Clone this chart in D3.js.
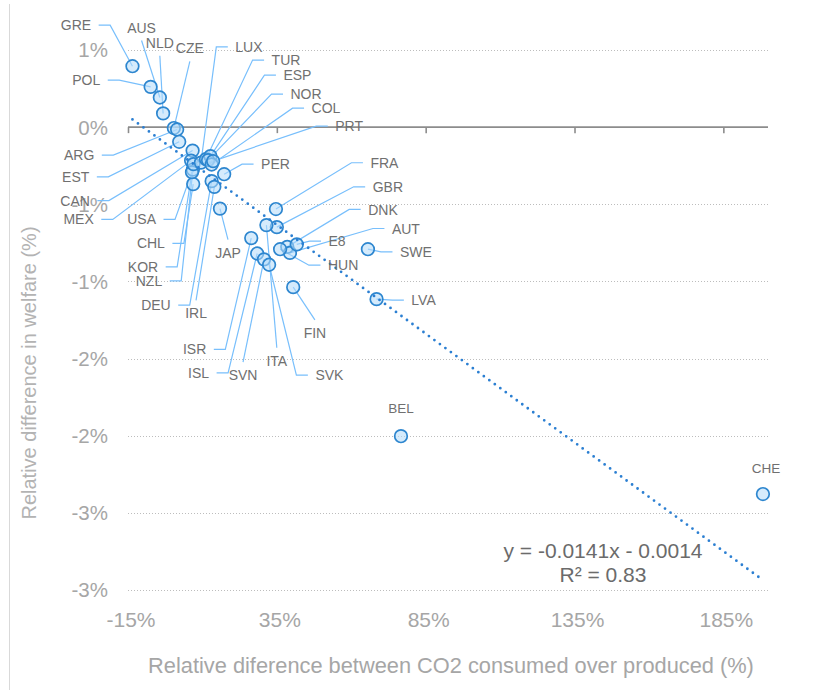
<!DOCTYPE html>
<html><head><meta charset="utf-8">
<script src="https://cdn.jsdelivr.net/npm/d3@7"></script>
<style>
body{margin:0;background:#fff;}
svg{display:block;font-family:"Liberation Sans",Arial,Helvetica,sans-serif;}
</style></head><body>
<svg id="chart" width="814" height="690"></svg>
<script>
// ---- data ----
const countries = ["GRE","POL","AUS","NLD","CZE","ARG","EST","CAN","MEX","USA","CHL","KOR","NZL","DEU","IRL","LUX","TUR","ESP","NOR","COL","PRT","PER","JAP","FRA","GBR","DNK","AUT","E8","SWE","HUN","LVA","FIN","ISR","ITA","ISL","SVN","SVK","BEL","CHE"];
// Relative difference between CO2 consumed over produced (%)
const co2Diff = [-13.5,-7.4,-4.3,-3.2,0.4,1.5,2.2,6.7,6.2,6.8,6.9,6.5,7.0,13.1,14.0,9.5,11.2,12.7,11.9,13.1,13.6,17.3,15.9,34.7,35.0,38.5,39.4,41.7,65.6,36.1,68.5,40.5,26.4,31.5,28.4,30.7,32.4,76.7,198.3];
// Relative difference in welfare (%)
const welfareDiff = [0.395,0.261,0.192,0.089,-0.006,-0.015,-0.095,-0.152,-0.217,-0.275,-0.369,-0.292,-0.240,-0.350,-0.387,-0.230,-0.207,-0.188,-0.214,-0.242,-0.220,-0.305,-0.528,-0.531,-0.648,-0.776,-0.815,-0.760,-0.791,-0.791,-1.115,-1.037,-0.719,-0.635,-0.819,-0.857,-0.892,-2.003,-2.378];
const xTicks = [-15,35,85,135,185];
const xTickLabels = ["-15%","35%","85%","135%","185%"];
const yTicks = [0.5,0,-0.5,-1,-1.5,-2,-2.5,-3];
const yTickLabels = ["1%","0%","-1%","-1%","-2%","-2%","-3%","-3%"];
const trendSlope = -0.0141, trendIntercept = -0.0014, rSquared = 0.83;
const xTitle = "Relative diference between CO2 consumed over produced (%)";
const yTitle = "Relative difference in welfare (%)";

// ---- label layout (pixel offsets from point, leader side) ----
const labelLayout = {
  GRE:[-56.5,-41,"l"], POL:[-64.4,-6.7,"l"], AUS:[-18.3,-70,"t"], NLD:[-3.3,-70.6,"t"],
  CZE:[16,-79.7,"t"], ARG:[-98,25.7,"l"], EST:[-103.5,35,"l"], CAN:[-117.5,50,"l"],
  MEX:[-112.5,58.8,"l"], USA:[-51.3,49.8,"l"], CHL:[-42.3,59.3,"l"], KOR:[-49,94.7,"l"],
  NZL:[-44.5,116.7,"l"], DEU:[-55.7,124,"l"], IRL:[-18.3,126.6,"b"], LUX:[48,-115.8,"r"],
  TUR:[80,-99,"r"], ESP:[87,-81,"r"], NOR:[98,-66,"r"], COL:[114.3,-56.3,"r"],
  PRT:[136,-35,"r"], PER:[51.3,-10,"r"], JAP:[8,44,"b"], FRA:[108.5,-46.3,"r"],
  GBR:[111,-40.3,"r"], DNK:[95.7,-37.4,"r"], AUT:[116,-24.4,"r"], E8:[40.3,-3.3,"r"],
  SWE:[48,2.7,"r"], HUN:[63,16,"r"], LVA:[47,1,"r"], FIN:[21.7,45.7,"b"],
  ISR:[-56.6,111.3,"l"], ITA:[10.4,135.7,"b"], ISL:[-58.6,119.4,"l"], SVN:[-21,115.7,"b"],
  SVK:[60.3,110.3,"r"], BEL:[0,-28,"n"], CHE:[3,-26,"n"]
};

const data = countries.map((c,i)=>({name:c,x:co2Diff[i],y:welfareDiff[i]}));

const svg = d3.select("#chart");
const pL=128, pR=768, pT=50, pB=590;
const x = d3.scaleLinear().domain([-15,200]).range([pL,pR]);
const y = d3.scaleLinear().domain([-3,0.5]).range([pB,pT]);

// left border
svg.append("line").attr("x1",9.5).attr("x2",9.5).attr("y1",4).attr("y2",690)
  .attr("stroke","#d9d9d9").attr("stroke-width",1);

// gridlines
svg.append("g").selectAll("line").data(yTicks.filter(v=>v!==0)).join("line")
  .attr("x1",pL).attr("x2",pR).attr("y1",d=>Math.round(y(d))+0.5).attr("y2",d=>Math.round(y(d))+0.5)
  .attr("stroke","#bdbdbd").attr("stroke-width",1).attr("stroke-dasharray","1 2");

// y tick labels
svg.append("g").selectAll("text").data(yTicks).join("text")
  .attr("x",108).attr("y",d=>y(d)).attr("dy","0.36em").attr("text-anchor","end")
  .attr("font-size",20.5).attr("fill","#a6a6a6").text((d,i)=>yTickLabels[i]);

// zero axis with ticks via d3 axis
const xAxis = d3.axisBottom(x).tickValues(xTicks).tickSize(6).tickFormat("");
const gx = svg.append("g").attr("transform",`translate(0,${y(0)})`).call(xAxis);
gx.select(".domain").attr("stroke","#8c8c8c").attr("stroke-width",1.6)
  .attr("d",`M${pL},0H${pR}`);
gx.selectAll(".tick line").attr("stroke","#8c8c8c").attr("stroke-width",1.6);

// x tick labels
svg.append("g").selectAll("text").data(xTicks).join("text")
  .attr("x",d=>x(d)+3).attr("y",619).attr("dy","0.36em").attr("text-anchor","middle")
  .attr("font-size",21).attr("fill","#a6a6a6").text((d,i)=>xTickLabels[i]);

// axis titles
svg.append("text").attr("x",451).attr("y",665).attr("dy","0.36em")
  .attr("text-anchor","middle").attr("font-size",21.8).attr("fill","#a6a6a6").text(xTitle);
svg.append("text").attr("transform","translate(29,373) rotate(-90)").attr("dy","0.36em")
  .attr("text-anchor","middle").attr("font-size",20).attr("fill","#b3b3b3").text(yTitle);

const gLead = svg.append("g");
const gDots = svg.append("g");
const gTrend = svg.append("g");
const gLab = svg.append("g");

// labels
const labs = gLab.selectAll("text").data(data).join("text")
  .attr("x",d=>x(d.x)+labelLayout[d.name][0])
  .attr("y",d=>y(d.y)+labelLayout[d.name][1])
  .attr("dy","0.36em").attr("text-anchor","middle")
  .attr("font-size",d=>(d.name==="BEL"||d.name==="CHE")?13.5:14)
  .attr("fill","#707070").text(d=>d.name);

// leader lines
labs.each(function(d){
  const L = labelLayout[d.name]; if(L[2]==="n") return;
  const w = this.getComputedTextLength();
  const px = x(d.x), py = y(d.y);
  const cx = px+L[0], cy = py+L[1];
  let pts;
  if(L[2]==="l"){ const s=cx+w/2+7.5; pts=[[s,cy],[s+11.5,cy],[px,py]]; }
  else if(L[2]==="r"){ const s=cx-w/2-7.5; pts=[[s,cy],[s-11.5,cy],[px,py]]; }
  else if(L[2]==="t"){ pts=[[cx,cy+13],[px,py]]; }
  else { pts=[[cx,cy-13],[px,py]]; }
  gLead.append("path").attr("d",d3.line()(pts)).attr("fill","none")
    .attr("stroke","#78bffc").attr("stroke-width",1.2);
});

// markers
gDots.selectAll("circle").data(data).join("circle")
  .attr("cx",d=>x(d.x)).attr("cy",d=>y(d.y)).attr("r",6.3)
  .attr("fill","rgba(178,218,250,0.55)").attr("stroke","#2d86cf").attr("stroke-width",1.7);

// trendline over data range
const xs = d3.extent(co2Diff);
const trendPts = xs.map(v=>[x(v), y(100*(trendSlope*v/100+trendIntercept))]);
gTrend.append("path").attr("d",d3.line()(trendPts)).attr("fill","none")
  .attr("stroke","#2b7fd2").attr("stroke-width",2.8).attr("stroke-linecap","round")
  .attr("stroke-dasharray","0 6.8");

// equation
const eq = svg.append("g").attr("fill","#6b6b6b").attr("font-size",21).attr("text-anchor","middle");
eq.append("text").attr("x",603).attr("y",550).attr("dy","0.36em")
  .text(`y = ${trendSlope}x - ${Math.abs(trendIntercept).toFixed(4)}`);
eq.append("text").attr("x",603).attr("y",574).attr("dy","0.36em")
  .text(`R² = ${rSquared}`);
</script>
</body></html>
